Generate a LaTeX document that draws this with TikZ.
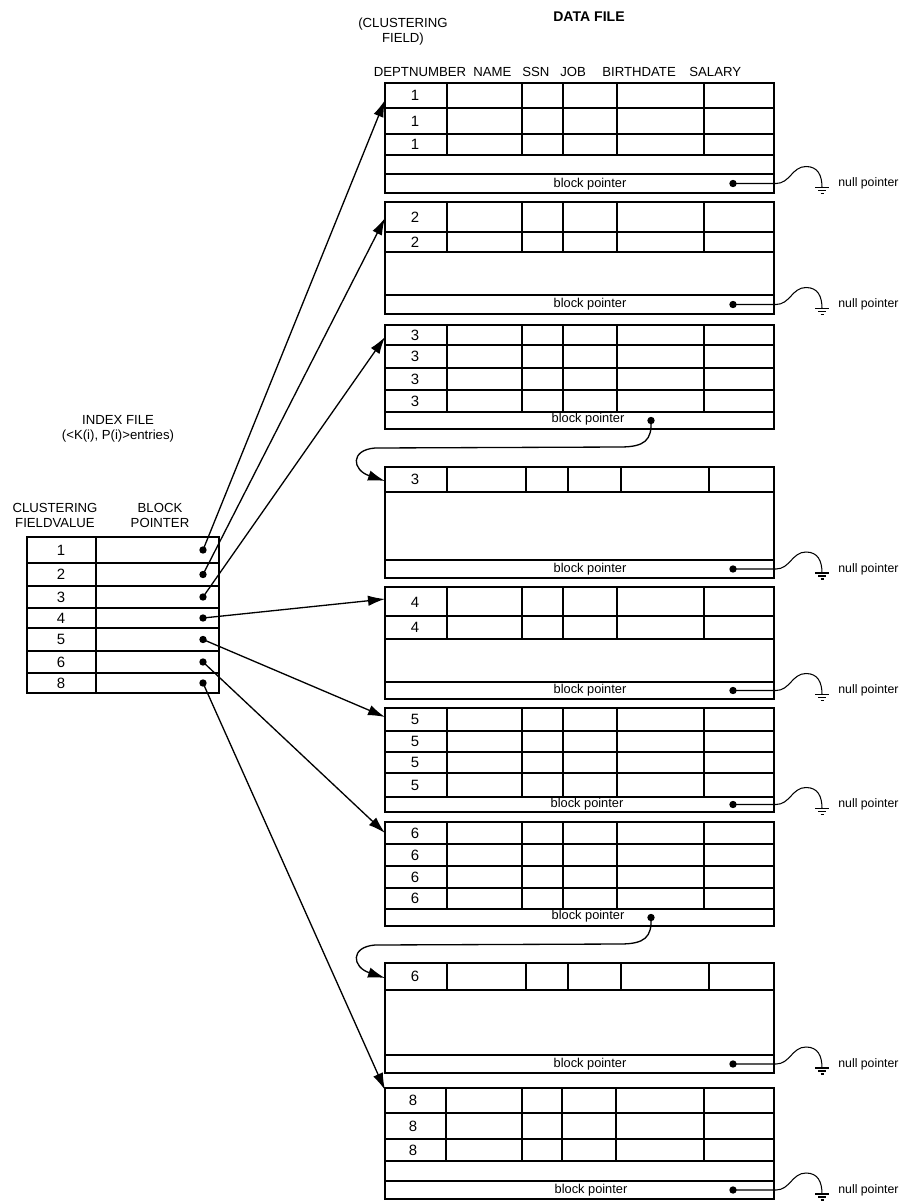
\documentclass[tikz,border=0pt]{standalone}
\usepackage{fontspec}
\setmainfont{Liberation Sans}
\usetikzlibrary{arrows.meta}

\begin{document}
\begin{tikzpicture}[x=0.02cm,y=-0.02cm,
  tbl/.style={line width=0.9pt},
  lbl/.style={font=\fontsize{7.5}{8.5}\selectfont,inner sep=0pt},
  hdr/.style={lbl,anchor=west},
  num/.style={font=\fontsize{8.5}{9.5}\selectfont,inner sep=0pt},
  bptext/.style={font=\fontsize{7.3}{8}\selectfont,inner sep=0pt},
  nulltext/.style={font=\fontsize{7}{8}\selectfont,inner sep=0pt,anchor=west},
  dot/.style={circle,fill,inner sep=0pt,minimum size=4.2pt},
  ptr/.style={line width=0.75pt,-{Latex[length=3.4mm,width=2.1mm]}},
  nul/.style={line width=0.6pt}]
  \useasboundingbox (0,0) rectangle (907,1201);

  % titles
  \node[lbl,font=\fontsize{8}{9}\selectfont\bfseries] (datafile) at (589,17) {DATA FILE};
  \node[lbl,align=center] (clfield) at (403,32) {(CLUSTERING\\FIELD)};
  \node[lbl] (hdept) at (420,72) {DEPTNUMBER};
  \node[hdr] (hname) at (473,72) {NAME};
  \node[hdr] (hssn) at (522,72) {SSN};
  \node[hdr] (hjob) at (560,72) {JOB};
  \node[hdr] (hbirth) at (602,72) {BIRTHDATE};
  \node[hdr] (hsal) at (689,72) {SALARY};
  \node[lbl,align=center] (indexfile) at (118,429) {INDEX FILE\\(<K(i), P(i)>entries)};
  \node[lbl,align=center] (hclust) at (55,515) {CLUSTERING\\FIELDVALUE};
  \node[lbl,align=center] (hblock) at (160,515) {BLOCK\\POINTER};

  % index file
  \draw[tbl] (27,537) rectangle (219,693);
  \foreach \y in {563,586,608,628,651,673} \draw[tbl] (27,\y) -- (219,\y);
  \draw[tbl] (96,537) -- (96,693);
  \foreach \k/\y in {1/550,2/574.5,3/597,4/618,5/639.5,6/662,8/683} {
    \node[num] (v\k) at (61,\y) {\k};
    \node[dot] (i\k) at (203,\y) {};
  }

  % block 1
  \draw[tbl] (385,83) rectangle (774,193);
  \foreach \y in {108,134,155,174} \draw[tbl] (385,\y) -- (774,\y);
  \foreach \x in {447,522,563,617,704} \draw[tbl] (\x,83) -- (\x,155);
  \foreach \y in {95.5,121,144.5} \node[num] at (415,\y) {1};
  \node[bptext] (bp1) at (590,184) {block pointer};
  \coordinate (b1) at (385,100);

  % block 2
  \draw[tbl] (385,202) rectangle (774,314);
  \foreach \y in {232,252,295} \draw[tbl] (385,\y) -- (774,\y);
  \foreach \x in {447,522,563,617,704} \draw[tbl] (\x,202) -- (\x,252);
  \foreach \y in {217,242} \node[num] at (415,\y) {2};
  \node[bptext] (bp2) at (590,304.5) {block pointer};
  \coordinate (b2) at (385,218);

  % block 3
  \draw[tbl] (385,325) rectangle (774,429);
  \foreach \y in {345,368,390,412} \draw[tbl] (385,\y) -- (774,\y);
  \foreach \x in {447,522,563,617,704} \draw[tbl] (\x,325) -- (\x,412);
  \foreach \y in {335,356.5,379,401} \node[num] at (415,\y) {3};
  \node[bptext] (bp3) at (588,419) {block pointer};
  \node[dot] (d3) at (651,420.5) {};
  \coordinate (b3) at (385,337);

  % block 3 (overflow)
  \draw[tbl] (385,467) rectangle (774,578);
  \foreach \y in {492,560} \draw[tbl] (385,\y) -- (774,\y);
  \foreach \x in {447,526,568,621,709} \draw[tbl] (\x,467) -- (\x,492);
  \node[num] at (415,479.5) {3};
  \node[bptext] (bp3b) at (590,569) {block pointer};
  \coordinate (c3) at (385,481);

  % block 4
  \draw[tbl] (385,587) rectangle (774,699);
  \foreach \y in {616,639,682} \draw[tbl] (385,\y) -- (774,\y);
  \foreach \x in {447,522,563,617,704} \draw[tbl] (\x,587) -- (\x,639);
  \foreach \y in {602,627} \node[num] at (415,\y) {4};
  \node[bptext] (bp4) at (590,690.5) {block pointer};
  \coordinate (b4) at (385,599);

  % block 5
  \draw[tbl] (385,708) rectangle (774,812);
  \foreach \y in {731,752,773,797} \draw[tbl] (385,\y) -- (774,\y);
  \foreach \x in {447,522,563,617,704} \draw[tbl] (\x,708) -- (\x,797);
  \foreach \y in {719.5,741.5,762.5,785} \node[num] at (415,\y) {5};
  \node[bptext] (bp5) at (587,804.5) {block pointer};
  \coordinate (b5) at (385,717);

  % block 6
  \draw[tbl] (385,822) rectangle (774,926);
  \foreach \y in {844,866,888,909} \draw[tbl] (385,\y) -- (774,\y);
  \foreach \x in {447,522,563,617,704} \draw[tbl] (\x,822) -- (\x,909);
  \foreach \y in {833,855,877,898.5} \node[num] at (415,\y) {6};
  \node[bptext] (bp6) at (588,916) {block pointer};
  \node[dot] (d6) at (651,917.5) {};
  \coordinate (b6) at (385,833);

  % block 6 (overflow)
  \draw[tbl] (385,963) rectangle (774,1073);
  \foreach \y in {990,1055} \draw[tbl] (385,\y) -- (774,\y);
  \foreach \x in {447,526,568,621,709} \draw[tbl] (\x,963) -- (\x,990);
  \node[num] at (415,976.5) {6};
  \node[bptext] (bp6b) at (590,1064) {block pointer};
  \coordinate (c6) at (385,978);

  % block 8
  \draw[tbl] (385,1088) rectangle (774,1199);
  \foreach \y in {1113,1139,1161,1181} \draw[tbl] (385,\y) -- (774,\y);
  \foreach \x in {446,522,562,616,704} \draw[tbl] (\x,1088) -- (\x,1161);
  \foreach \y in {1100.5,1126,1150} \node[num] at (413,\y) {8};
  \node[bptext] (bp8) at (591,1190) {block pointer};
  \coordinate (b8) at (385,1090);

  % index pointers
  \foreach \k in {1,2,3,4,5,6,8} \draw[ptr] (i\k.center) -- (b\k);

  % chained blocks
  \draw[ptr] (d3.center) .. controls (652,440) and (645,447) .. (620,447)
    -- (375,448) .. controls (350,450) and (352,470) .. (c3);
  \draw[ptr] (d6.center) .. controls (652,937) and (645,944) .. (620,944)
    -- (375,945) .. controls (350,947) and (352,967) .. (c6);

  % null pointers
  \foreach \n/\y in {1/183.5,2/304.5,3b/569,4/690.5,5/804.5,6b/1064,8/1190} {
    \node[dot] (d\n) at (733,\y) {};
    \coordinate (g\n) at (822,\y+4);
    \draw[nul] (d\n.center) -- (776,\y) .. controls (790,\y) and (792,\y-17) .. (806,\y-17)
      .. controls (818,\y-17) and (822,\y-8) .. (g\n);
    \draw[nul] (815,\y+4) -- (829,\y+4) (818,\y+7) -- (826,\y+7) (820.5,\y+10) -- (823.5,\y+10);
    \node[nulltext] (n\n) at (838,\y) {null pointer};
  }
\end{tikzpicture}
\end{document}
